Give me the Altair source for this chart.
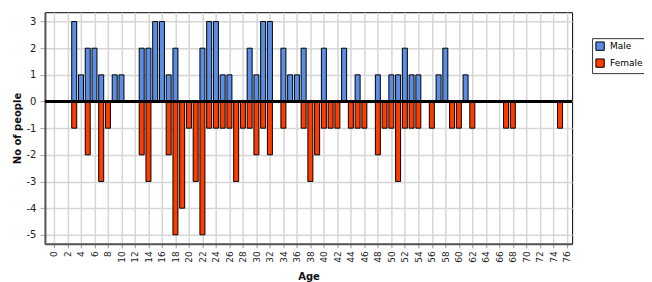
import altair as alt
import pandas as pd

# Ages and counts
male_ages = [3, 4, 5, 6, 7, 9, 10, 13, 14, 15, 16, 17, 18, 22, 23, 24, 25, 26, 29, 30,
             31, 32, 34, 35, 36, 37, 40, 43, 45, 48, 50, 51, 52, 53, 54, 57, 58, 61]
male_counts = [3, 1, 2, 2, 1, 1, 1, 2, 2, 3, 3, 1, 2, 2, 3, 3, 1, 1, 2, 1,
               3, 3, 2, 1, 1, 2, 2, 2, 1, 1, 1, 1, 2, 1, 1, 1, 2, 1]

female_ages = [3, 5, 7, 8, 13, 14, 17, 18, 19, 20, 21, 22, 23, 24, 25, 26, 27, 28, 29, 30,
               31, 32, 34, 37, 38, 39, 40, 41, 42, 44, 45, 46, 48, 49, 50, 51, 52, 53, 54,
               56, 59, 60, 62, 67, 68, 75]
female_counts = [-1, -2, -3, -1, -2, -3, -2, -5, -4, -1, -3, -5, -1, -1, -1, -1, -3, -1, -1, -2,
                 -1, -2, -1, -1, -3, -2, -1, -1, -1, -1, -1, -1, -2, -1, -1, -3, -1, -1, -1,
                 -1, -1, -1, -1, -1, -1, -1]

series_names = ["Male", "Female"]
series_colors = ["#5a8ee6", "#ff3c00"]
x_ticks = list(range(0, 77, 2))
y_ticks = list(range(-5, 4))

df = pd.concat([
    pd.DataFrame({"Age": male_ages, "Count": male_counts, "Sex": "Male"}),
    pd.DataFrame({"Age": female_ages, "Count": female_counts, "Sex": "Female"}),
])

FONT = "DejaVu Sans"

yscale = alt.Scale(domain=[-5.34, 3.35], nice=False, zero=False)
yaxis = alt.Axis(values=y_ticks, title="No of people",
                 labelExpr="'' + datum.value",
                 labelOverlap=False, labelSeparation=0,
                 labelFontSize=10, titleFontSize=10, titleFontWeight="bold",
                 domainColor="#555555", domainWidth=2,
                 tickColor="#aaaaaa", tickSize=5, labelPadding=4,
                 titlePadding=4,
                 gridColor="#d6d6d6", gridWidth=1.5)

bars = alt.Chart(df).mark_bar(size=5, stroke="black", strokeWidth=1, opacity=1).encode(
    x=alt.X("Age:Q",
            scale=alt.Scale(domain=[-0.6, 76.05], nice=False, zero=False),
            axis=alt.Axis(values=x_ticks, labelAngle=270, title="Age",
                          labelFontSize=9, titleFontSize=10, titleFontWeight="bold",
                          labelOverlap=False,
                          domainColor="#555555", domainWidth=2,
                          tickColor="#999999", tickSize=4, labelPadding=3,
                          titlePadding=9,
                          gridColor="#d6d6d6", gridWidth=1.5)),
    y=alt.Y("Count:Q", scale=yscale, axis=yaxis),
    color=alt.Color("Sex:N",
                    scale=alt.Scale(domain=series_names, range=series_colors),
                    legend=alt.Legend(title=None, orient="none", legendX=548, legendY=26,
                                      symbolType="square", symbolSize=70,
                                      symbolStrokeColor="black", symbolStrokeWidth=1,
                                      symbolOpacity=1,
                                      labelFontSize=9, labelFont=FONT,
                                      strokeColor="#333333", padding=3,
                                      rowPadding=3, labelOffset=5,
                                      fillColor="white")),
)

zero = alt.Chart(pd.DataFrame({"y": [0]})).mark_rule(color="black", strokeWidth=3).encode(
    y=alt.Y("y:Q", scale=yscale, axis=yaxis, title="No of people")
)

chart = alt.layer(bars, zero).properties(
    width=528,
    height=232,
    autosize=alt.AutoSizeParams(type="none"),
    padding={"left": 37, "top": 4, "right": 72, "bottom": 40},
    background="white",
).configure_view(
    stroke="black", strokeWidth=1
).configure_axis(
    labelFont=FONT, titleFont=FONT, labelColor="#222222", titleColor="#111111"
)

chart.save("out.html", embed_options={"renderer": "svg", "actions": False})
